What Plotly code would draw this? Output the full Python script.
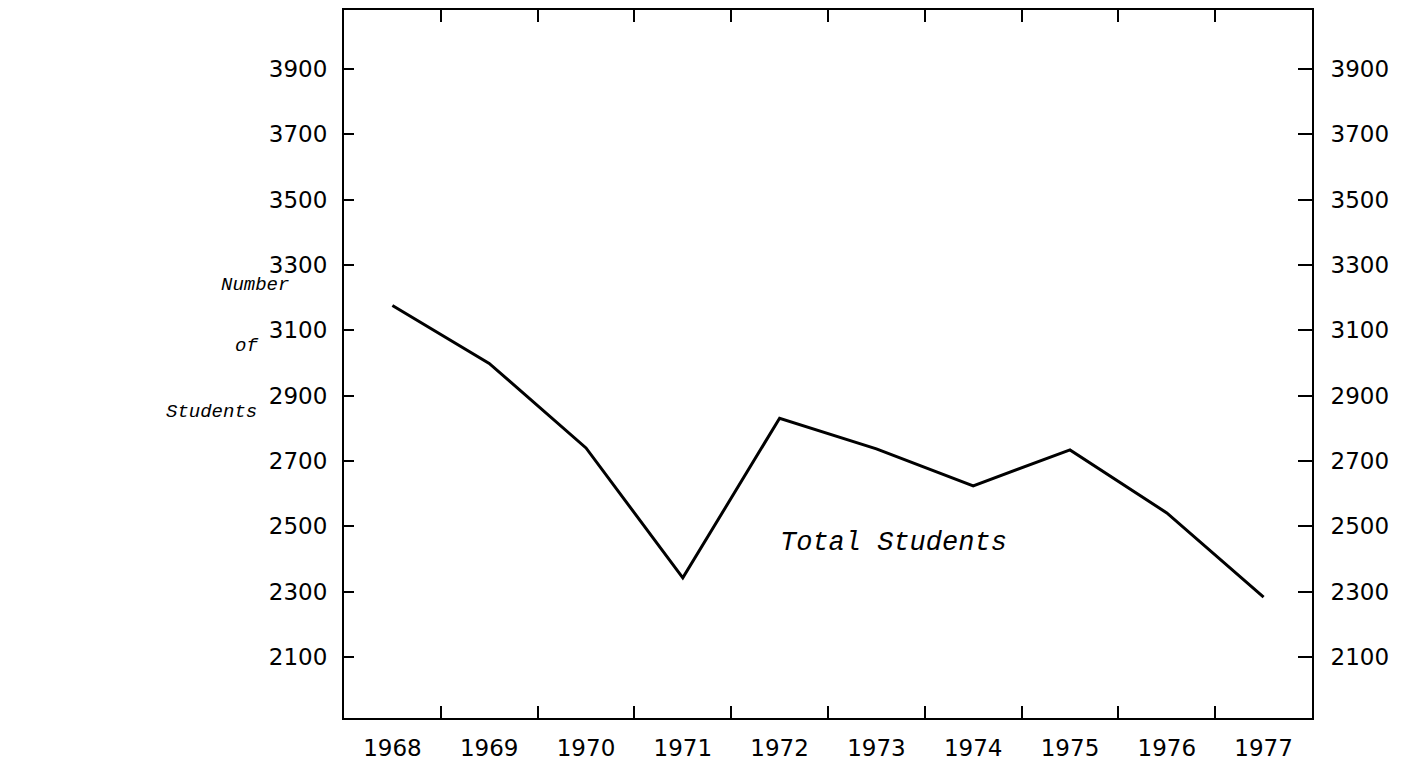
import plotly.graph_objects as go

years = ["1968", "1969", "1970", "1971", "1972", "1973", "1974", "1975", "1976", "1977"]
total_students = [3176, 2999, 2740, 2342, 2831, 2737, 2624, 2734, 2541, 2283]
y_ticks = [2100, 2300, 2500, 2700, 2900, 3100, 3300, 3500, 3700, 3900]
y_range = [1913, 4081]

fig = go.Figure()
fig.add_trace(go.Scatter(x=years, y=total_students, mode="lines",
                         line=dict(color="black", width=3), showlegend=False))
# invisible trace for the right axis
fig.add_trace(go.Scatter(x=years, y=total_students, yaxis="y2", mode="lines",
                         line=dict(color="rgba(0,0,0,0)"), showlegend=False, hoverinfo="skip"))

tick_font = dict(family="DejaVu Sans", size=23, color="black")

fig.update_layout(
    width=1420, height=763,
    margin=dict(l=336, r=116, t=2, b=53),
    paper_bgcolor="white", plot_bgcolor="white",
    xaxis=dict(type="category", range=[-0.5, 9.5], tickson="boundaries", automargin=False,
               ticks="inside", ticklen=12, tickwidth=1.5, tickcolor="black",
               showline=True, linecolor="black", linewidth=2, mirror="ticks",
               showgrid=False, zeroline=False, tickfont=tick_font, ticklabelstandoff=8),
    yaxis=dict(range=y_range, tickvals=y_ticks, ticks="inside", ticklen=10, tickwidth=1.5,
               tickcolor="black", showline=True, linecolor="black", linewidth=2, automargin=False,
               showgrid=False, zeroline=False, tickfont=tick_font, ticklabelstandoff=10),
    yaxis2=dict(range=y_range, tickvals=y_ticks, overlaying="y", side="right", automargin=False,
                ticks="inside", ticklen=14, tickwidth=1.5, tickcolor="black",
                showline=True, linecolor="black", linewidth=2,
                showgrid=False, zeroline=False, tickfont=tick_font, ticklabelstandoff=12),
)

label_font = dict(family="Liberation Mono", size=19, color="black")
fig.add_annotation(text="<i>Number</i>", xref="paper", yref="paper", x=-0.129, y=0.6116,
                   xanchor="left", yanchor="middle", showarrow=False, font=label_font)
fig.add_annotation(text="<i>of</i>", xref="paper", yref="paper", x=-0.115, y=0.5254,
                   xanchor="left", yanchor="middle", showarrow=False, font=label_font)
fig.add_annotation(text="<i>Students</i>", xref="paper", yref="paper", x=-0.186, y=0.432,
                   xanchor="left", yanchor="middle", showarrow=False, font=label_font)
fig.add_annotation(text="<i>Total Students</i>", xref="paper", yref="paper", x=0.568, y=0.247,
                   xanchor="center", yanchor="middle", showarrow=False,
                   font=dict(family="Liberation Mono", size=27, color="black"))

fig.write_html("out.html")
